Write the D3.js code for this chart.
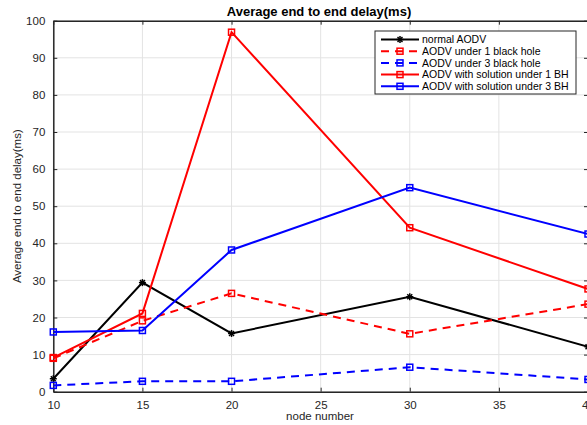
<!DOCTYPE html>
<html>
<head>
<meta charset="utf-8">
<script src="https://cdn.jsdelivr.net/npm/d3@7"></script>
<style>
  body { margin: 0; background: #fff; overflow: hidden; }
  svg { display: block; font-family: "Liberation Sans", Arial, sans-serif; }
</style>
</head>
<body>
<div id="container"></div>
<script>
// Data
const nodes = [10, 15, 20, 30, 40];
const normalAodv = [3.5, 29.4, 15.7, 25.6, 12.1];
const under1Bh = [9.0, 19.1, 26.5, 15.6, 23.6];
const under3Bh = [1.7, 2.8, 2.8, 6.6, 3.3];
const solution1Bh = [9.2, 21.1, 96.9, 44.2, 27.7];
const solution3Bh = [16.1, 16.5, 38.2, 55.0, 42.5];
const xTicks = [10, 15, 20, 25, 30, 35, 40];
const yTicks = [0, 10, 20, 30, 40, 50, 60, 70, 80, 90, 100];

const series = [
  { name: "normal AODV", values: normalAodv, color: "#000", dash: null, marker: "star" },
  { name: "AODV under 1 black hole", values: under1Bh, color: "#ff0000", dash: "8,6", marker: "square" },
  { name: "AODV under 3 black hole", values: under3Bh, color: "#0000ff", dash: "8,6", marker: "square" },
  { name: "AODV with solution under 1 BH", values: solution1Bh, color: "#ff0000", dash: null, marker: "square" },
  { name: "AODV with solution under 3 BH", values: solution3Bh, color: "#0000ff", dash: null, marker: "square" }
];

const width = 587, height = 425;
// the right frame sits just past the window edge, as in the reference
const margin = { left: 53.3, right: -1, top: 20.7, bottom: 33.3 };

const svg = d3.select("#container")
  .append("svg")
  .attr("width", width)
  .attr("height", height);

const x = d3.scaleLinear().domain([10, 40]).range([margin.left, width - margin.right]);
const y = d3.scaleLinear().domain([0, 100]).range([height - margin.bottom, margin.top]);

// Grid lines
svg.append("g")
  .selectAll("line")
  .data(xTicks)
  .join("line")
  .attr("x1", d => x(d)).attr("x2", d => x(d))
  .attr("y1", y(0)).attr("y2", y(100))
  .attr("stroke", "#e3e3e3").attr("stroke-width", 1);

svg.append("g")
  .selectAll("line")
  .data(yTicks)
  .join("line")
  .attr("x1", x(10)).attr("x2", x(40))
  .attr("y1", d => y(d)).attr("y2", d => y(d))
  .attr("stroke", "#e3e3e3").attr("stroke-width", 1);

// Axes (MATLAB style, ticks inward, box on)
const axisColor = "#262626";
const bottomAxis = svg.append("g")
  .attr("transform", `translate(0,${y(0)})`)
  .call(d3.axisBottom(x).tickValues(xTicks).tickSizeInner(-4).tickSizeOuter(0).tickPadding(9));
const topAxis = svg.append("g")
  .attr("transform", `translate(0,${y(100)})`)
  .call(d3.axisTop(x).tickValues(xTicks).tickSizeInner(-4).tickSizeOuter(0).tickFormat(""));
const leftAxis = svg.append("g")
  .attr("transform", `translate(${x(10)},0)`)
  .call(d3.axisLeft(y).tickValues(yTicks).tickSizeInner(-4).tickSizeOuter(0).tickPadding(8));
const rightAxis = svg.append("g")
  .attr("transform", `translate(${x(40)},0)`)
  .call(d3.axisRight(y).tickValues(yTicks).tickSizeInner(-4).tickSizeOuter(0).tickFormat(""));

[bottomAxis, topAxis, leftAxis, rightAxis].forEach(g => {
  g.select(".domain").attr("stroke", axisColor).attr("stroke-width", 1.5);
  g.selectAll(".tick line").attr("stroke", axisColor);
  g.selectAll(".tick text").attr("fill", axisColor).attr("font-size", 11.5);
});

// Lines
const line = d3.line()
  .x((d, i) => x(nodes[i]))
  .y(d => y(d));

series.forEach(s => {
  svg.append("path")
    .datum(s.values)
    .attr("fill", "none")
    .attr("stroke", s.color)
    .attr("stroke-width", 2)
    .attr("stroke-dasharray", s.dash)
    .attr("d", line);
});

// Markers
function drawMarker(g, type, cx, cy, color) {
  if (type === "square") {
    g.append("rect")
      .attr("x", cx - 3).attr("y", cy - 3)
      .attr("width", 6).attr("height", 6)
      .attr("fill", "none")
      .attr("stroke", color)
      .attr("stroke-width", 1.5);
  } else {
    const r = 3.5;
    [0, 45, 90, 135].forEach(a => {
      const rad = a * Math.PI / 180;
      g.append("line")
        .attr("x1", cx - r * Math.cos(rad)).attr("y1", cy - r * Math.sin(rad))
        .attr("x2", cx + r * Math.cos(rad)).attr("y2", cy + r * Math.sin(rad))
        .attr("stroke", color).attr("stroke-width", 1.5);
    });
  }
}

series.forEach(s => {
  const g = svg.append("g");
  s.values.forEach((v, i) => drawMarker(g, s.marker, x(nodes[i]), y(v), s.color));
});

// Title and axis labels
svg.append("text")
  .attr("x", 319).attr("y", 16)
  .attr("text-anchor", "middle")
  .attr("font-size", 13)
  .attr("font-weight", "bold")
  .attr("fill", "#000")
  .text("Average end to end delay(ms)");

svg.append("text")
  .attr("x", 320).attr("y", 420)
  .attr("text-anchor", "middle")
  .attr("font-size", 11.5)
  .attr("fill", axisColor)
  .text("node number");

svg.append("text")
  .attr("transform", `translate(21,${(y(0) + y(100)) / 2}) rotate(-90)`)
  .attr("text-anchor", "middle")
  .attr("font-size", 11.5)
  .attr("fill", axisColor)
  .text("Average end to end delay(ms)");

// Legend
const legend = svg.append("g").attr("transform", "translate(375,31)");
legend.append("rect")
  .attr("width", 201).attr("height", 63)
  .attr("fill", "#fff")
  .attr("stroke", axisColor)
  .attr("stroke-width", 1);

series.forEach((s, i) => {
  const ly = 8.5 + i * 11.7;
  legend.append("line")
    .attr("x1", 6).attr("x2", 44)
    .attr("y1", ly).attr("y2", ly)
    .attr("stroke", s.color)
    .attr("stroke-width", 2)
    .attr("stroke-dasharray", s.dash);
  drawMarker(legend, s.marker, 25, ly, s.color);
  legend.append("text")
    .attr("x", 47).attr("y", ly + 3.8)
    .attr("font-size", 10.5)
    .attr("fill", "#000")
    .text(s.name);
});
</script>
</body>
</html>
